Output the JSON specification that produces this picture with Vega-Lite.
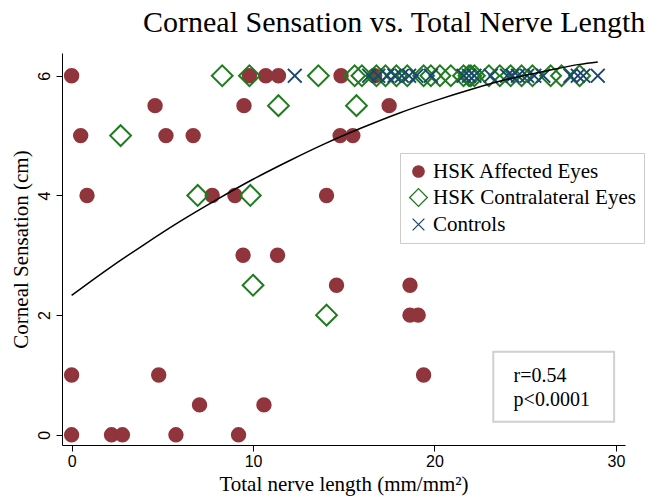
{
  "$schema": "https://vega.github.io/schema/vega-lite/v6.json",
  "width": 563,
  "height": 392,
  "autosize": "none",
  "padding": {"left": 62, "top": 53, "right": 37, "bottom": 53},
  "background": "white",
  "title": {
    "text": "Corneal Sensation vs. Total Nerve Length",
    "font": "Liberation Serif",
    "fontSize": 30,
    "fontWeight": "normal",
    "color": "black",
    "anchor": "start",
    "frame": "group",
    "dx": 81,
    "offset": 15
  },
  "config": {
    "view": {"stroke": null},
    "axis": {
      "grid": false,
      "domainColor": "black",
      "tickColor": "black",
      "labelFont": "Liberation Sans",
      "labelFontSize": 16,
      "labelColor": "black",
      "titleFont": "Liberation Serif",
      "titleFontSize": 21,
      "titleFontWeight": "normal",
      "titleColor": "black",
      "tickSize": 6
    }
  },
  "datasets": {
    "points": [
      {"group": "HSK Affected Eyes", "nerve": 0, "sensation": 6},
      {"group": "HSK Affected Eyes", "nerve": 0.5, "sensation": 5},
      {"group": "HSK Affected Eyes", "nerve": 0.85, "sensation": 4},
      {"group": "HSK Affected Eyes", "nerve": 0, "sensation": 1},
      {"group": "HSK Affected Eyes", "nerve": 0, "sensation": 0},
      {"group": "HSK Affected Eyes", "nerve": 2.2, "sensation": 0},
      {"group": "HSK Affected Eyes", "nerve": 2.8, "sensation": 0},
      {"group": "HSK Affected Eyes", "nerve": 4.6, "sensation": 5.5},
      {"group": "HSK Affected Eyes", "nerve": 5.2, "sensation": 5},
      {"group": "HSK Affected Eyes", "nerve": 6.7, "sensation": 5},
      {"group": "HSK Affected Eyes", "nerve": 4.8, "sensation": 1},
      {"group": "HSK Affected Eyes", "nerve": 5.75, "sensation": 0},
      {"group": "HSK Affected Eyes", "nerve": 7.05, "sensation": 0.5},
      {"group": "HSK Affected Eyes", "nerve": 7.75, "sensation": 4},
      {"group": "HSK Affected Eyes", "nerve": 9.0, "sensation": 4},
      {"group": "HSK Affected Eyes", "nerve": 9.2, "sensation": 0},
      {"group": "HSK Affected Eyes", "nerve": 9.45, "sensation": 3},
      {"group": "HSK Affected Eyes", "nerve": 9.5, "sensation": 5.5},
      {"group": "HSK Affected Eyes", "nerve": 9.8, "sensation": 6},
      {"group": "HSK Affected Eyes", "nerve": 10.6, "sensation": 0.5},
      {"group": "HSK Affected Eyes", "nerve": 10.7, "sensation": 6},
      {"group": "HSK Affected Eyes", "nerve": 11.35, "sensation": 3},
      {"group": "HSK Affected Eyes", "nerve": 11.4, "sensation": 6},
      {"group": "HSK Affected Eyes", "nerve": 14.05, "sensation": 4},
      {"group": "HSK Affected Eyes", "nerve": 14.6, "sensation": 2.5},
      {"group": "HSK Affected Eyes", "nerve": 14.85, "sensation": 6},
      {"group": "HSK Affected Eyes", "nerve": 14.8, "sensation": 5},
      {"group": "HSK Affected Eyes", "nerve": 15.5, "sensation": 5},
      {"group": "HSK Affected Eyes", "nerve": 16.7, "sensation": 6},
      {"group": "HSK Affected Eyes", "nerve": 17.5, "sensation": 5.5},
      {"group": "HSK Affected Eyes", "nerve": 18.65, "sensation": 2.5},
      {"group": "HSK Affected Eyes", "nerve": 18.65, "sensation": 2},
      {"group": "HSK Affected Eyes", "nerve": 19.1, "sensation": 2},
      {"group": "HSK Affected Eyes", "nerve": 19.4, "sensation": 1},
      {"group": "HSK Contralateral Eyes", "nerve": 2.7, "sensation": 5},
      {"group": "HSK Contralateral Eyes", "nerve": 6.95, "sensation": 4},
      {"group": "HSK Contralateral Eyes", "nerve": 9.85, "sensation": 4},
      {"group": "HSK Contralateral Eyes", "nerve": 10.0, "sensation": 2.5},
      {"group": "HSK Contralateral Eyes", "nerve": 11.4, "sensation": 5.5},
      {"group": "HSK Contralateral Eyes", "nerve": 14.05, "sensation": 2},
      {"group": "HSK Contralateral Eyes", "nerve": 15.7, "sensation": 5.5},
      {"group": "HSK Contralateral Eyes", "nerve": 8.3, "sensation": 6},
      {"group": "HSK Contralateral Eyes", "nerve": 9.8, "sensation": 6},
      {"group": "HSK Contralateral Eyes", "nerve": 13.6, "sensation": 6},
      {"group": "HSK Contralateral Eyes", "nerve": 15.6, "sensation": 6},
      {"group": "HSK Contralateral Eyes", "nerve": 16.0, "sensation": 6},
      {"group": "HSK Contralateral Eyes", "nerve": 16.8, "sensation": 6},
      {"group": "HSK Contralateral Eyes", "nerve": 17.3, "sensation": 6},
      {"group": "HSK Contralateral Eyes", "nerve": 17.9, "sensation": 6},
      {"group": "HSK Contralateral Eyes", "nerve": 18.5, "sensation": 6},
      {"group": "HSK Contralateral Eyes", "nerve": 19.4, "sensation": 6},
      {"group": "HSK Contralateral Eyes", "nerve": 19.8, "sensation": 6},
      {"group": "HSK Contralateral Eyes", "nerve": 20.3, "sensation": 6},
      {"group": "HSK Contralateral Eyes", "nerve": 20.9, "sensation": 6},
      {"group": "HSK Contralateral Eyes", "nerve": 21.6, "sensation": 6},
      {"group": "HSK Contralateral Eyes", "nerve": 21.9, "sensation": 6},
      {"group": "HSK Contralateral Eyes", "nerve": 22.0, "sensation": 6},
      {"group": "HSK Contralateral Eyes", "nerve": 22.2, "sensation": 6},
      {"group": "HSK Contralateral Eyes", "nerve": 23.0, "sensation": 6},
      {"group": "HSK Contralateral Eyes", "nerve": 23.6, "sensation": 6},
      {"group": "HSK Contralateral Eyes", "nerve": 24.2, "sensation": 6},
      {"group": "HSK Contralateral Eyes", "nerve": 24.8, "sensation": 6},
      {"group": "HSK Contralateral Eyes", "nerve": 25.4, "sensation": 6},
      {"group": "HSK Contralateral Eyes", "nerve": 26.4, "sensation": 6},
      {"group": "HSK Contralateral Eyes", "nerve": 27.0, "sensation": 6},
      {"group": "HSK Contralateral Eyes", "nerve": 28.0, "sensation": 6},
      {"group": "Controls", "nerve": 12.3, "sensation": 6},
      {"group": "Controls", "nerve": 16.4, "sensation": 6},
      {"group": "Controls", "nerve": 16.9, "sensation": 6},
      {"group": "Controls", "nerve": 17.4, "sensation": 6},
      {"group": "Controls", "nerve": 17.8, "sensation": 6},
      {"group": "Controls", "nerve": 18.2, "sensation": 6},
      {"group": "Controls", "nerve": 18.6, "sensation": 6},
      {"group": "Controls", "nerve": 19.0, "sensation": 6},
      {"group": "Controls", "nerve": 19.8, "sensation": 6},
      {"group": "Controls", "nerve": 21.6, "sensation": 6},
      {"group": "Controls", "nerve": 21.9, "sensation": 6},
      {"group": "Controls", "nerve": 22.2, "sensation": 6},
      {"group": "Controls", "nerve": 23.1, "sensation": 6},
      {"group": "Controls", "nerve": 24.0, "sensation": 6},
      {"group": "Controls", "nerve": 24.3, "sensation": 6},
      {"group": "Controls", "nerve": 24.6, "sensation": 6},
      {"group": "Controls", "nerve": 25.1, "sensation": 6},
      {"group": "Controls", "nerve": 25.5, "sensation": 6},
      {"group": "Controls", "nerve": 26.0, "sensation": 6},
      {"group": "Controls", "nerve": 27.5, "sensation": 6},
      {"group": "Controls", "nerve": 27.9, "sensation": 6},
      {"group": "Controls", "nerve": 28.2, "sensation": 6},
      {"group": "Controls", "nerve": 29.0, "sensation": 6}
    ],
    "fit": [
      {"nerve": 0, "sensation": 2.33},
      {"nerve": 2, "sensation": 2.77},
      {"nerve": 4, "sensation": 3.18},
      {"nerve": 6, "sensation": 3.57},
      {"nerve": 8, "sensation": 3.93},
      {"nerve": 10, "sensation": 4.27},
      {"nerve": 12, "sensation": 4.58},
      {"nerve": 14, "sensation": 4.87},
      {"nerve": 16, "sensation": 5.13},
      {"nerve": 18, "sensation": 5.37},
      {"nerve": 20, "sensation": 5.58},
      {"nerve": 22, "sensation": 5.77},
      {"nerve": 24, "sensation": 5.94},
      {"nerve": 26, "sensation": 6.07},
      {"nerve": 28, "sensation": 6.19},
      {"nerve": 29, "sensation": 6.23}
    ]
  },
  "layer": [
    {
      "data": {"name": "points"},
      "mark": {"type": "point", "filled": false, "strokeWidth": 2, "opacity": 1, "size": 180},
      "encoding": {
        "x": {
          "field": "nerve", "type": "quantitative",
          "scale": {"domain": [-0.53, 30.5], "nice": false, "zero": false},
          "axis": {"values": [0, 10, 20, 30], "format": "d", "title": "Total nerve length (mm/mm²)", "titlePadding": 4, "labelPadding": 2}
        },
        "y": {
          "field": "sensation", "type": "quantitative",
          "scale": {"domain": [-0.17, 6.38], "nice": false, "zero": false},
          "axis": {"values": [0, 2, 4, 6], "format": "d", "title": "Corneal Sensation (cm)", "labelAngle": -90, "labelPadding": 4, "titlePadding": 5}
        },
        "shape": {
          "field": "group", "type": "nominal",
          "scale": {
            "domain": ["HSK Affected Eyes", "HSK Contralateral Eyes", "Controls"],
            "range": ["circle", "M0,-1.55L1.55,0L0,1.55L-1.55,0Z", "M-1.03,-1.03L1.03,1.03M1.03,-1.03L-1.03,1.03"]
          },
          "legend": {
            "title": null,
            "orient": "none",
            "legendX": 338,
            "legendY": 100,
            "padding": 8,
            "strokeColor": "#cccccc",
            "fillColor": "white",
            "labelFont": "Liberation Serif",
            "labelFontSize": 21,
            "labelColor": "black",
            "labelOffset": 4,
            "rowPadding": 4,
            "symbolSize": 130,
            "symbolStrokeWidth": 1.3,
            "labelLimit": 400
          }
        },
        "fill": {
          "field": "group", "type": "nominal",
          "scale": {
            "domain": ["HSK Affected Eyes", "HSK Contralateral Eyes", "Controls"],
            "range": ["#90353B", "transparent", "transparent"]
          },
          "legend": {"title": null}
        },
        "stroke": {
          "field": "group", "type": "nominal",
          "scale": {
            "domain": ["HSK Affected Eyes", "HSK Contralateral Eyes", "Controls"],
            "range": ["#90353B", "#1E7B1E", "#1A476F"]
          },
          "legend": {"title": null}
        }
      }
    },
    {
      "data": {"name": "fit"},
      "mark": {"type": "line", "color": "black", "strokeWidth": 1.5, "interpolate": "monotone"},
      "encoding": {
        "x": {"field": "nerve", "type": "quantitative"},
        "y": {"field": "sensation", "type": "quantitative"}
      }
    },
    {
      "data": {"values": [{"label": "stats"}]},
      "mark": {"type": "rect", "fill": "white", "stroke": "#d0d0d0", "strokeWidth": 2},
      "encoding": {
        "x": {"datum": 23.24},
        "x2": {"datum": 29.9},
        "y": {"datum": 1.39},
        "y2": {"datum": 0.217}
      }
    },
    {
      "data": {"values": [{"label": "stats"}]},
      "mark": {"type": "text", "font": "Liberation Serif", "fontSize": 20, "align": "left", "baseline": "alphabetic", "lineHeight": 24, "color": "black", "text": ["r=0.54", "p<0.0001"]},
      "encoding": {
        "x": {"datum": 24.36},
        "y": {"datum": 0.883}
      }
    }
  ]
}
